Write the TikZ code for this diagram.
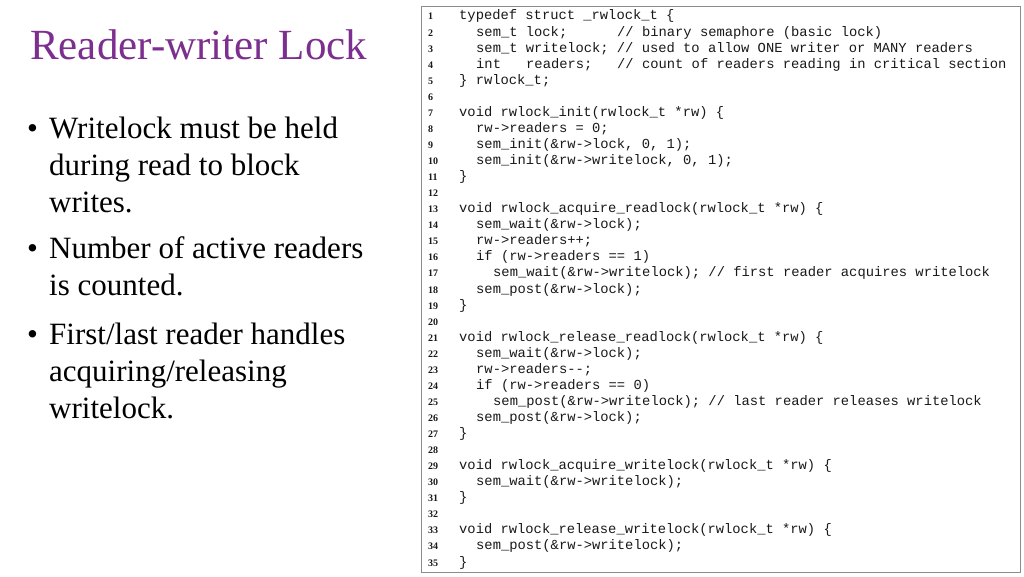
\documentclass[tikz,border=0pt]{standalone}
\usepackage{fontspec}
\setmainfont{Liberation Serif}
\newfontfamily\codefont{Liberation Mono}
\usetikzlibrary{positioning}
\definecolor{titlepurple}{HTML}{7D2F8F}
\tikzset{
  title/.style={anchor=base west,inner sep=0pt,text=titlepurple,font=\fontsize{43}{43}\selectfont},
  bullet/.style={anchor=base west,inner sep=0pt,font=\fontsize{31}{31}\selectfont},
  codetext/.style={anchor=base west,inner sep=0pt,text=black!90,font=\codefont\fontsize{13.8}{13.8}\selectfont},
  lineno/.style={anchor=base west,inner sep=0pt,text=black!90,font=\bfseries\fontsize{10}{10}\selectfont},
}
% one listing line: number, x of first character, text
\newcommand{\codeln}[3]{%
  \node[lineno] (n#1) at (428,{576-20-16.06*(#1-1)}) {#1};
  \node[codetext] (l#1) at (#2,{576-20-16.06*(#1-1)}) {#3};}
% more text on a listing line: name, line, x, text
\newcommand{\codecm}[4]{%
  \node[codetext] (#1) at (#3,{576-20-16.06*(#2-1)}) {#4};}
\begin{document}
\begin{tikzpicture}[x=1pt,y=1pt]
  \useasboundingbox[fill=white] (0,0) rectangle (1024,576);
  % slide text
  \node[title] (title) at (30,516) {Reader-writer Lock};
  \node[bullet] (b1) at (27,437) {\textbullet};
  \node[bullet] (t1a) at (49,437) {Writelock must be held};
  \node[bullet] (t1b) at (49,400) {during read to block};
  \node[bullet] (t1c) at (49,363) {writes.};
  \node[bullet] (b2) at (27,317) {\textbullet};
  \node[bullet] (t2a) at (49,317) {Number of active readers};
  \node[bullet] (t2b) at (49,280) {is counted.};
  \node[bullet] (b3) at (27,232) {\textbullet};
  \node[bullet] (t3a) at (49,232) {First/last reader handles};
  \node[bullet] (t3b) at (49,195) {acquiring/releasing};
  \node[bullet] (t3c) at (49,158) {writelock.};
  % listing box
  \draw[black!45,line width=1pt] (421,4) rectangle (1020,569);
  \codeln{1}{459}{typedef struct \_rwlock\_t \{}
  \codeln{2}{476}{sem\_t lock;}
  \codecm{c2}{2}{617}{// binary semaphore (basic lock)}
  \codeln{3}{476}{sem\_t writelock; // used to allow ONE writer or MANY readers}
  \codeln{4}{476}{int}
  \codecm{r4}{4}{526}{readers;}
  \codecm{c4}{4}{617}{// count of readers reading in critical section}
  \codeln{5}{459}{\} rwlock\_t;}
  \codeln{6}{459}{}
  \codeln{7}{459}{void rwlock\_init(rwlock\_t *rw) \{}
  \codeln{8}{476}{rw->readers = 0;}
  \codeln{9}{476}{sem\_init(\&rw->lock, 0, 1);}
  \codeln{10}{476}{sem\_init(\&rw->writelock, 0, 1);}
  \codeln{11}{459}{\}}
  \codeln{12}{459}{}
  \codeln{13}{459}{void rwlock\_acquire\_readlock(rwlock\_t *rw) \{}
  \codeln{14}{476}{sem\_wait(\&rw->lock);}
  \codeln{15}{476}{rw->readers++;}
  \codeln{16}{476}{if (rw->readers == 1)}
  \codeln{17}{493}{sem\_wait(\&rw->writelock); // first reader acquires writelock}
  \codeln{18}{476}{sem\_post(\&rw->lock);}
  \codeln{19}{459}{\}}
  \codeln{20}{459}{}
  \codeln{21}{459}{void rwlock\_release\_readlock(rwlock\_t *rw) \{}
  \codeln{22}{476}{sem\_wait(\&rw->lock);}
  \codeln{23}{476}{rw->readers-{}-;}
  \codeln{24}{476}{if (rw->readers == 0)}
  \codeln{25}{493}{sem\_post(\&rw->writelock); // last reader releases writelock}
  \codeln{26}{476}{sem\_post(\&rw->lock);}
  \codeln{27}{459}{\}}
  \codeln{28}{459}{}
  \codeln{29}{459}{void rwlock\_acquire\_writelock(rwlock\_t *rw) \{}
  \codeln{30}{476}{sem\_wait(\&rw->writelock);}
  \codeln{31}{459}{\}}
  \codeln{32}{459}{}
  \codeln{33}{459}{void rwlock\_release\_writelock(rwlock\_t *rw) \{}
  \codeln{34}{476}{sem\_post(\&rw->writelock);}
  \codeln{35}{459}{\}}
\end{tikzpicture}
\end{document}
